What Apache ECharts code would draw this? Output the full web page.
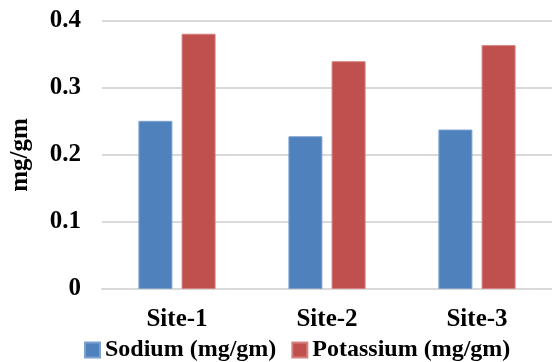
<!DOCTYPE html>
<html>
<head>
<meta charset="utf-8">
<script src="https://cdn.jsdelivr.net/npm/echarts@6/dist/echarts.min.js"></script>
<style>
  html, body { margin: 0; padding: 0; background: #fff; }
  #chart { width: 552px; height: 362px; }
</style>
</head>
<body>
<div id="chart"></div>
<script>
// Sodium and potassium content at each sampling site
const categories = ['Site-1', 'Site-2', 'Site-3'];
const sodium = [0.251, 0.228, 0.238];
const potassium = [0.381, 0.340, 0.364];
const seriesNames = ['Sodium (mg/gm)', 'Potassium (mg/gm)'];
const yTicks = { min: 0, max: 0.4, interval: 0.1 };

const font = 'Liberation Serif';
const chart = echarts.init(document.getElementById('chart'), null, { renderer: 'canvas' });

chart.setOption({
  animation: false,
  backgroundColor: '#ffffff',
  textStyle: { fontFamily: font },
  grid: { left: 102, right: 0, top: 21, bottom: 73, containLabel: false, outerBoundsMode: 'none' },
  legend: {
    left: 84,
    top: 338,
    padding: 0,
    itemWidth: 15,
    itemHeight: 15,
    itemGap: 15,
    icon: 'rect',
    textStyle: { fontFamily: font, fontWeight: 'bold', fontSize: 24, color: '#000' },
    data: seriesNames
  },
  xAxis: {
    type: 'category',
    data: categories,
    axisLine: { lineStyle: { color: '#d9d9d9', width: 2 } },
    axisTick: { show: false },
    axisLabel: { fontFamily: font, fontWeight: 'bold', fontSize: 25, color: '#000', margin: 18 }
  },
  yAxis: {
    type: 'value',
    min: yTicks.min,
    max: yTicks.max,
    interval: yTicks.interval,
    name: 'mg/gm',
    nameLocation: 'middle',
    nameGap: 69,
    nameTextStyle: { fontFamily: font, fontWeight: 'bold', fontSize: 25, color: '#000' },
    axisLine: { show: false },
    axisTick: { show: false },
    axisLabel: { fontFamily: font, fontWeight: 'bold', fontSize: 25, color: '#000', margin: 21 },
    splitLine: { lineStyle: { color: '#d9d9d9', width: 2 } }
  },
  series: [
    {
      name: seriesNames[0],
      type: 'bar',
      data: sodium,
      barWidth: 34,
      barGap: '27%',
      itemStyle: { color: '#4f81bd', borderColor: '#7da1cf', borderWidth: 1 }
    },
    {
      name: seriesNames[1],
      type: 'bar',
      data: potassium,
      barWidth: 34,
      barGap: '27%',
      itemStyle: { color: '#c0504d', borderColor: '#d48280', borderWidth: 1 }
    }
  ]
});
</script>
</body>
</html>
